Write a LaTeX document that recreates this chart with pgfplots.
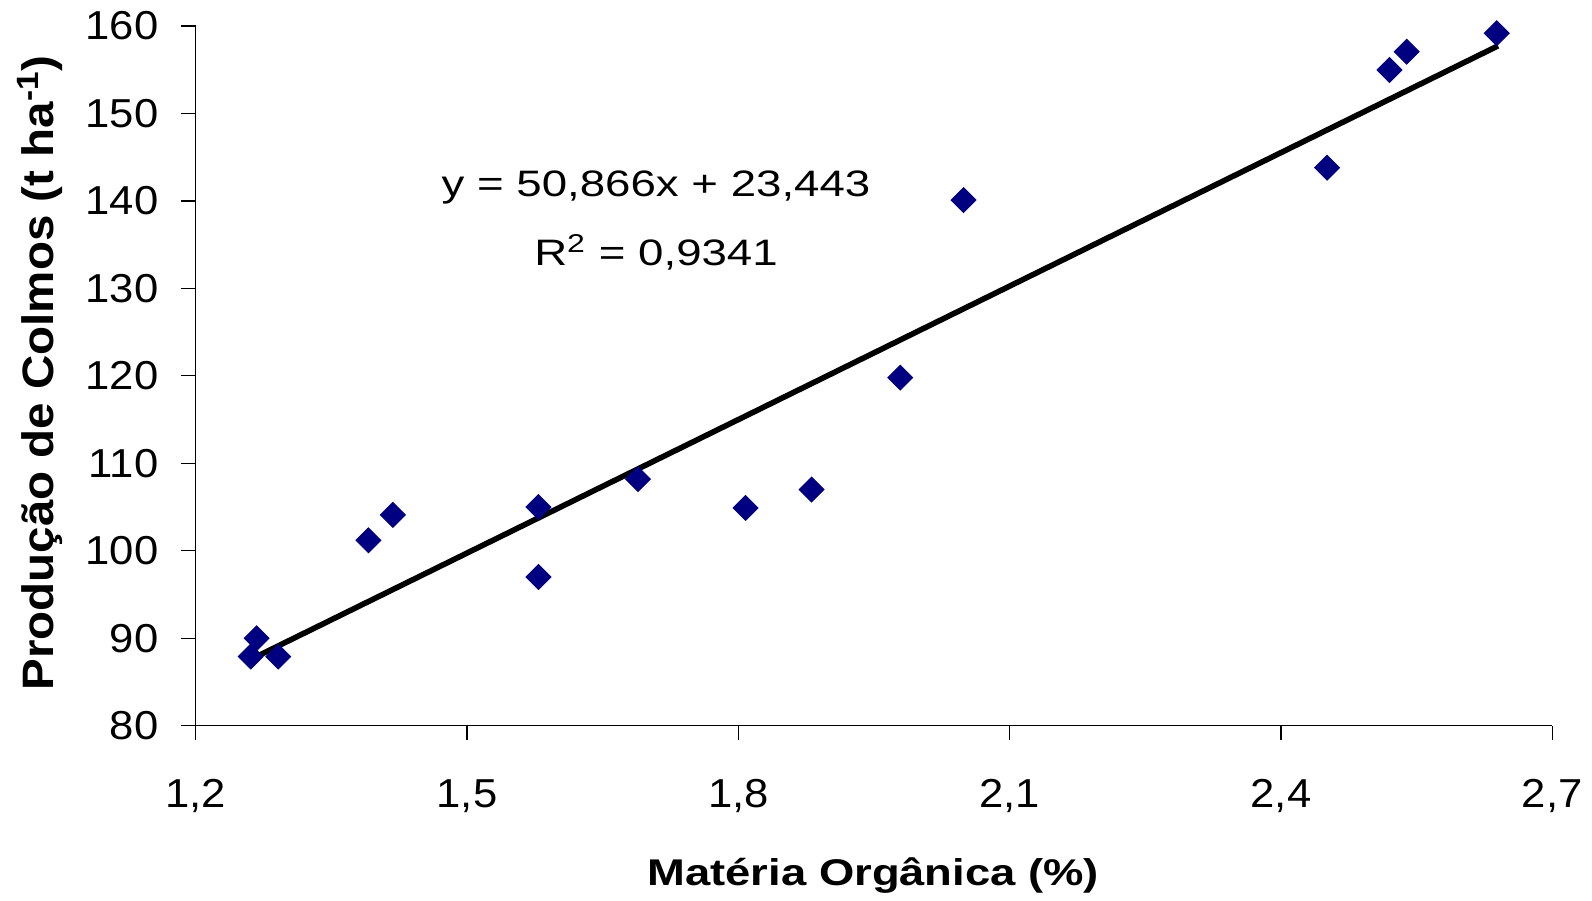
\documentclass[border=0pt]{standalone}
\usepackage{fontspec}
\setmainfont{Liberation Sans}
\usepackage{pgfplots}
\pgfplotsset{compat=1.18}
\definecolor{navymark}{RGB}{0,0,128}
\begin{document}
\begin{tikzpicture}
\begin{axis}[
  scale only axis, width=678.3bp, height=349.85bp,
  at={(0,0)}, anchor=south west,
  xmin=1.2, xmax=2.7, ymin=80, ymax=160,
  axis x line*=bottom, axis y line*=left,
  axis line style={-, line width=0.65bp, black},
  tick align=outside, major tick length=7.25bp,
  tick style={line width=0.65bp, black},
  xtick={1.2,1.5,1.8,2.1,2.4,2.7},
  ytick={80,90,100,110,120,130,140,150,160},
  /pgf/number format/assume math mode=true,
  xticklabel={\pgfmathprintnumber[fixed,fixed zerofill,precision=1,use comma]{\tick}},
  ticklabel style={font=\fontsize{20.2bp}{24bp}\selectfont, xscale=1.08},
  yticklabel style={xshift=-7bp},
  xticklabel style={yshift=-16bp},
  xlabel={Matéria Orgânica (\%)},
  ylabel={Produção de Colmos (t ha\textsuperscript{-1})},
  xlabel style={font=\fontsize{18.6bp}{22bp}\selectfont\bfseries,
    at={(rel axis cs:0.4995,-0.2277)}, anchor=base, xscale=1.22},
  ylabel style={font=\fontsize{22bp}{26bp}\selectfont\bfseries,
    at={(rel axis cs:-0.105,0.504)}, anchor=base, xscale=1.08},
  clip=false,
]
\addplot[only marks, mark=square*, mark size=4.42bp,
  mark options={rotate=45, fill=navymark, draw=navymark}]
coordinates {
(1.2608,87.9) (1.2674,90.0) (1.2913,87.9) (1.391,101.2) (1.418,104.1)
(1.579,105.0) (1.579,97.0) (1.689,108.2) (1.808,104.9) (1.881,107.0)
(1.979,119.8) (2.049,140.1) (2.451,143.8) (2.520,154.97) (2.539,157.06)
(2.6385,159.17)
};
\addplot[black, line width=2.8bp, line cap=butt, no marks]
coordinates {(1.259,87.48) (2.640,157.73)};
\node[anchor=base, font=\fontsize{18.4bp}{22bp}\selectfont, inner sep=0pt, xscale=1.24]
  at (axis cs:1.709,140.48) {y = 50,866x + 23,443};
\node[anchor=base, font=\fontsize{18.4bp}{22bp}\selectfont, inner sep=0pt, xscale=1.24]
  at (axis cs:1.709,132.67) {R\textsuperscript{2} = 0,9341};
\end{axis}
\pgfresetboundingbox
\path (-97.85bp,-87.65bp) rectangle (698.15bp,362.85bp);
\end{tikzpicture}
\end{document}
